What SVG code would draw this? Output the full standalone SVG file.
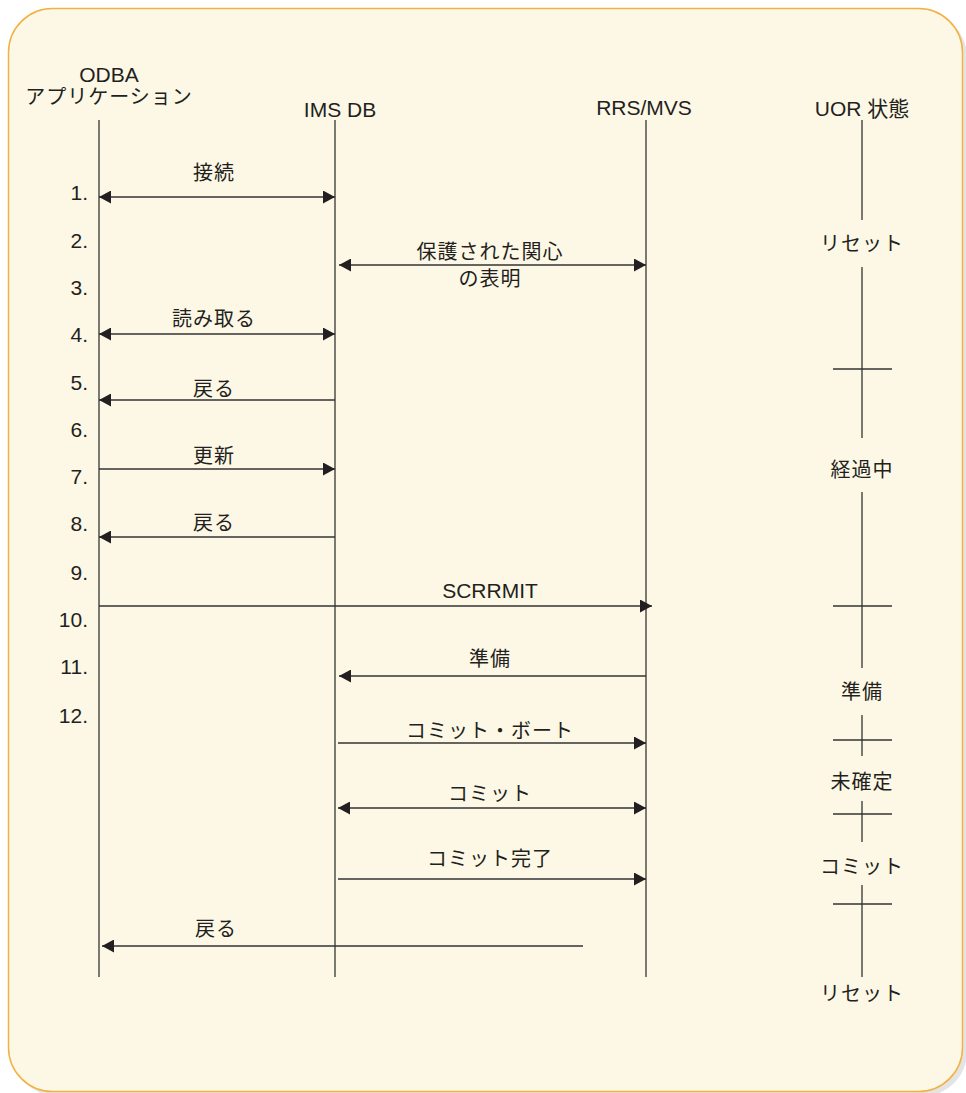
<svg xmlns="http://www.w3.org/2000/svg" width="966" height="1093" viewBox="0 0 966 1093">
<defs>
<style>
text{font-family:"Liberation Sans","Noto Sans CJK JP",sans-serif;font-size:20px;fill:#231f20;text-anchor:middle}
.lat{font-size:21px}
.num{text-anchor:end;font-size:21px}
.jp{letter-spacing:1px}
.life{stroke:#333;stroke-width:1.3;fill:none}
.arr{stroke:#333;stroke-width:1.6;fill:none}
.both{marker-start:url(#ah);marker-end:url(#ah)}
.end{marker-end:url(#ah)}
</style>
<marker id="ah" markerUnits="userSpaceOnUse" markerWidth="13" markerHeight="13" refX="12" refY="6.5" orient="auto-start-reverse">
<path d="M0,0 L12,6.5 L0,13 z" fill="#231f20"/>
</marker>
</defs>
<rect x="13" y="13" width="954" height="1083" rx="44" fill="#e4e4e4"/>
<rect x="8.5" y="8.5" width="954" height="1083" rx="44" fill="#fdf8e6" stroke="#f2b243" stroke-width="1.5"/>

<g id="numbers">
<text class="num" x="88" y="200">1.</text>
<text class="num" x="88" y="248">2.</text>
<text class="num" x="88" y="295">3.</text>
<text class="num" x="88" y="342">4.</text>
<text class="num" x="88" y="390">5.</text>
<text class="num" x="88" y="437">6.</text>
<text class="num" x="88" y="484">7.</text>
<text class="num" x="88" y="531">8.</text>
<text class="num" x="88" y="580">9.</text>
<text class="num" x="88" y="627">10.</text>
<text class="num" x="88" y="674">11.</text>
<text class="num" x="88" y="723">12.</text>
</g>

<g id="odba">
<text class="lat" x="109" y="82">ODBA</text>
<text class="jp" x="109" y="104">アプリケーション</text>
<line class="life" x1="99" y1="120" x2="99" y2="977"/>
</g>
<g id="imsdb">
<text class="lat" x="340" y="117">IMS DB</text>
<line class="life" x1="335" y1="120" x2="335" y2="977"/>
</g>
<g id="rrsmvs">
<text class="lat" x="644" y="115">RRS/MVS</text>
<line class="life" x1="646" y1="120" x2="646" y2="977"/>
</g>
<g id="uor">
<text class="lat" x="862" y="116">UOR 状態</text>
<path class="life" d="M862,120 V220 M862,267 V438 M862,492 V668 M862,715 V756 M862,801 V842 M862,885 V977 M833,369 H892 M833,606 H892 M833,740 H892 M833,814 H892 M833,904 H892"/>
<text class="jp" x="862" y="251">リセット</text>
<text class="jp" x="862" y="477">経過中</text>
<text class="jp" x="862" y="699">準備</text>
<text class="jp" x="862" y="789">未確定</text>
<text class="jp" x="862" y="874">コミット</text>
<text class="jp" x="862" y="1001">リセット</text>
</g>

<g id="connectors">
<line class="arr both" x1="99" y1="197" x2="335" y2="197"/>
<text class="jp" x="214" y="180">接続</text>
<line class="arr both" x1="339" y1="265" x2="646" y2="265"/>
<text class="jp" x="490" y="259">保護された関心</text>
<text class="jp" x="490" y="286">の表明</text>
<line class="arr both" x1="99" y1="334" x2="335" y2="334"/>
<text class="jp" x="214" y="326">読み取る</text>
<line class="arr end" x1="335" y1="400" x2="99" y2="400"/>
<text class="jp" x="214" y="396">戻る</text>
<line class="arr end" x1="99" y1="469" x2="335" y2="469"/>
<text class="jp" x="214" y="463">更新</text>
<line class="arr end" x1="335" y1="537" x2="99" y2="537"/>
<text class="jp" x="214" y="530">戻る</text>
<line class="arr end" x1="99" y1="606" x2="652" y2="606"/>
<text class="lat" x="490" y="598">SCRRMIT</text>
<line class="arr end" x1="646" y1="676" x2="339" y2="676"/>
<text class="jp" x="490" y="666">準備</text>
<line class="arr end" x1="338" y1="743" x2="646" y2="743"/>
<text class="jp" x="490" y="738">コミット・ボート</text>
<line class="arr both" x1="338" y1="808" x2="646" y2="808"/>
<text class="jp" x="490" y="801">コミット</text>
<line class="arr end" x1="338" y1="879" x2="646" y2="879"/>
<text class="jp" x="490" y="866">コミット完了</text>
<line class="arr end" x1="583" y1="946" x2="102" y2="946"/>
<text class="jp" x="216" y="936">戻る</text>
</g>
</svg>
